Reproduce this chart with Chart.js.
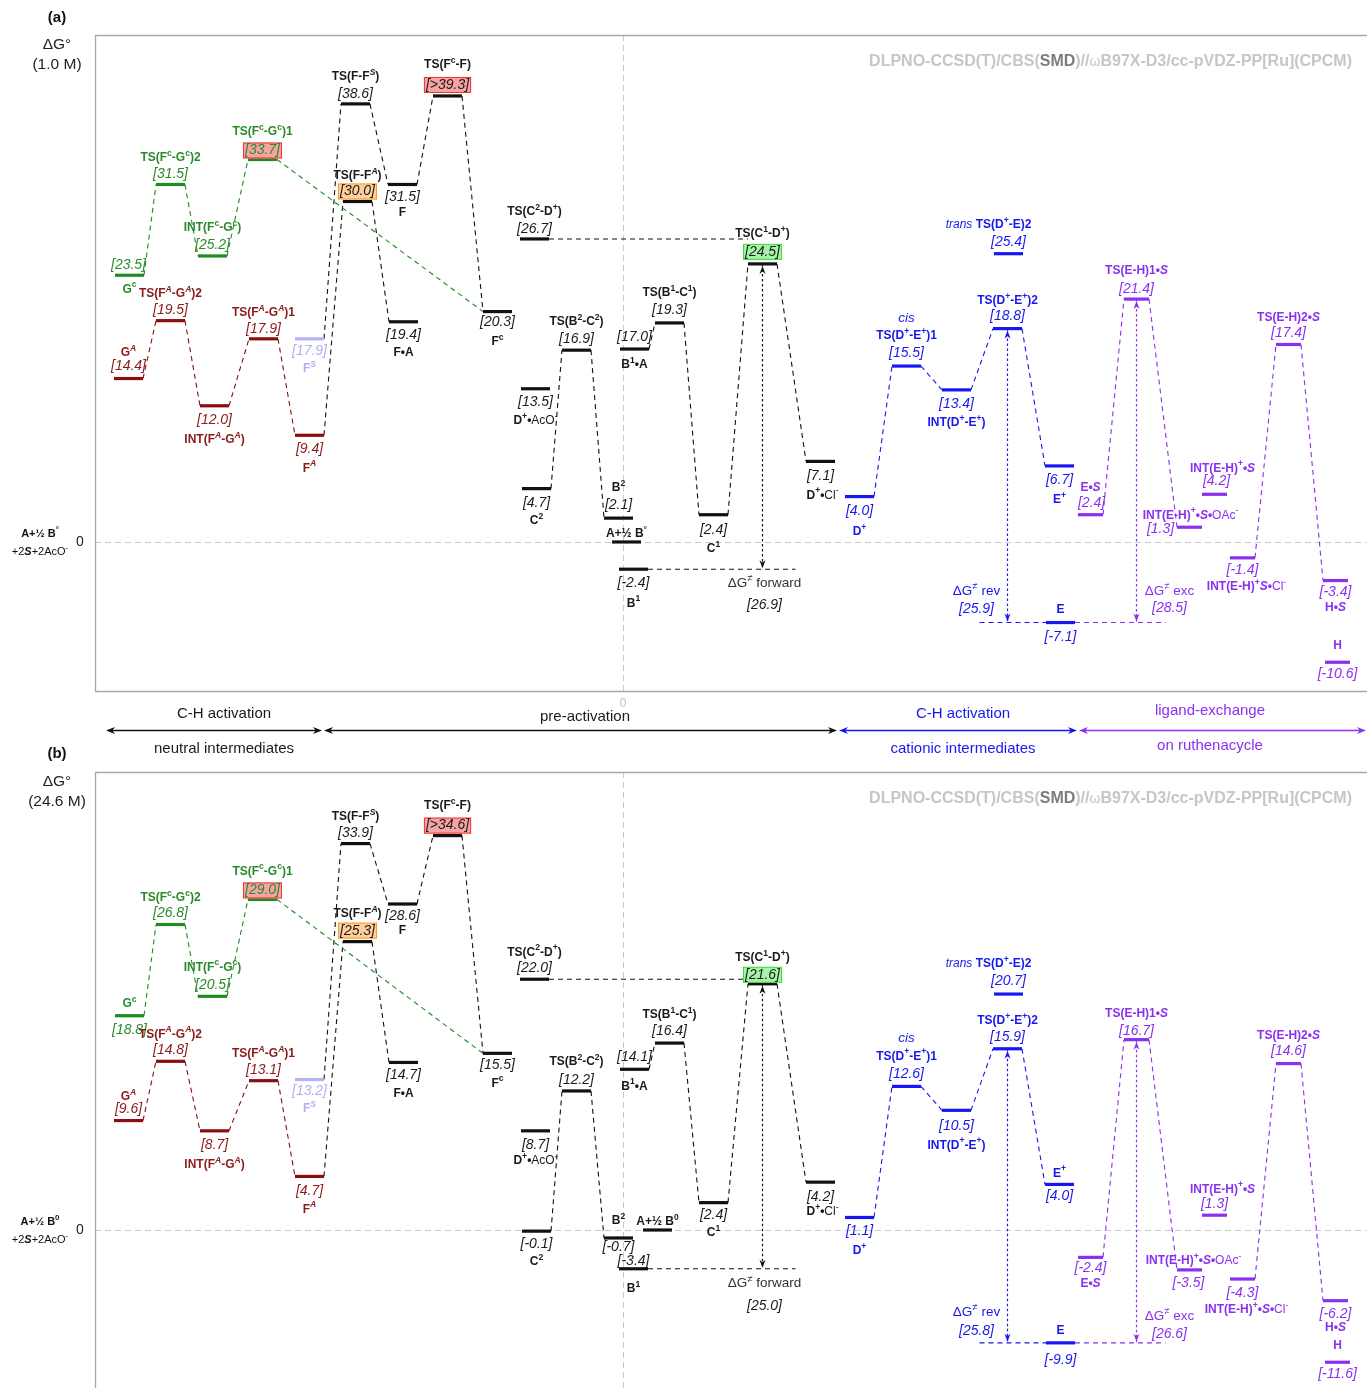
<!DOCTYPE html>
<html><head><meta charset="utf-8">
<script src="https://cdn.jsdelivr.net/npm/chart.js@4/dist/chart.umd.min.js"></script>
<style>
html,body{margin:0;padding:0;background:#fff;}
#wrap{position:relative;width:1367px;height:1388px;overflow:hidden;}
#ca{position:absolute;left:0;top:0;}
#cb{position:absolute;left:0;top:770px;}
</style></head>
<body><div id="wrap"><canvas id="ca" width="1367" height="770"></canvas><canvas id="cb" width="1367" height="618"></canvas></div>
<script>
// ---------------- DATA ----------------
const states = ['Gc','TS(Fc-Gc)2','INT(Fc-Gc)','TS(Fc-Gc)1','GA','TS(FA-GA)2','INT(FA-GA)','TS(FA-GA)1','FA','FS',
  'TS(F-FS)','TS(F-FA)','F','F.A','TS(Fc-F)','Fc','TS(C2-D+)','D+.AcO-','C2','TS(B2-C2)','B2','A+1/2B','B1','B1.A',
  'TS(B1-C1)','C1','TS(C1-D+)','D+.Cl-','D+','TS(D+-E+)1','INT(D+-E+)','TS(D+-E+)2','trans TS(D+-E)2','E+','E',
  'E.S','TS(E-H)1.S','INT(E-H)+.S.OAc-','INT(E-H)+.S','INT(E-H)+.S.Cl-','TS(E-H)2.S','H.S','H'];
const namesA = ['G^{c}','TS(F^{c}-G^{c})2','INT(F^{c}-G^{c})','TS(F^{c}-G^{c})1','G^{*A*}','TS(F^{*A*}-G^{*A*})2','INT(F^{*A*}-G^{*A*})','TS(F^{*A*}-G^{*A*})1','F^{*A*}','F^{*S*}',
  'TS(F-F^{*S*})','TS(F-F^{*A*})','F','F•A','TS(F^{c}-F)','F^{c}','TS(C^{2}-D^{+})','D^{+}•#AcO^{-}#','C^{2}','TS(B^{2}-C^{2})','B^{2}','A+½ B^{°}','B^{1}','B^{1}•A',
  'TS(B^{1}-C^{1})','C^{1}','TS(C^{1}-D^{+})','D^{+}•#Cl^{-}#','D^{+}','TS(D^{+}-E^{+})1','INT(D^{+}-E^{+})','TS(D^{+}-E^{+})2','#*trans*# TS(D^{+}-E)2','E^{+}','E',
  'E•*S*','TS(E-H)1•*S*','INT(E-H)^{+}•*S*•#OAc^{-}#','INT(E-H)^{+}•*S*','INT(E-H)^{+}*S*•#Cl^{-}#','TS(E-H)2•*S*','H•*S*','H'];
const namesB = namesA.slice();
namesB[21] = 'A+½ B^{0}';
namesB[39] = 'INT(E-H)^{+}•*S*•#Cl^{-}#';
const energyA = [23.5,31.5,25.2,33.7, 14.4,19.5,12.0,17.9,9.4, 17.9,
  38.6,30.0,31.5,19.4,39.3,20.3, 26.7,13.5,4.7,16.9,2.1,0.0,-2.4,17.0,19.3,2.4,24.5,7.1,
  4.0,15.5,13.4,18.8,25.4,6.7,-7.1, 2.4,21.4,1.3,4.2,-1.4,17.4,-3.4,-10.6];
const energyB = [18.8,26.8,20.5,29.0, 9.6,14.8,8.7,13.1,4.7, 13.2,
  33.9,25.3,28.6,14.7,34.6,15.5, 22.0,8.7,-0.1,12.2,-0.7,0.0,-3.4,14.1,16.4,2.4,21.6,4.2,
  1.1,12.6,10.5,15.9,20.7,4.0,-9.9, -2.4,16.7,-3.5,1.3,-4.3,14.6,-6.2,-11.6];
const valuePrefix = states.map((s,i)=> i===14 ? '>' : '');
const showValue = states.map((s,i)=> i!==21);
const barrierKeys = ['forward','rev','exc'];
const barriersA = [26.9,25.9,28.5];
const barriersB = [25.0,25.8,26.6];
const sectionTitles = ['C-H activation','pre-activation','C-H activation','ligand-exchange'];
const sectionSubs = ['neutral intermediates','','cationic intermediates','on ruthenacycle'];
const panelTitles = ['(1.0 M)','(24.6 M)'];

// ---------------- LAYOUT / STYLE ----------------
const group = ['g','g','g','g','r','r','r','r','r','l','k','k','k','k','k','k','k','k','k','k','k','k','k','k','k','k','k','k',
  'b','b','b','b','b','b','b','p','p','p','p','p','p','p','p'];
const COL = {g:'#1f8c1f', r:'#8b0d0d', l:'#b3b3f5', k:'#111111', b:'#1717f5', p:'#8b2ff0'};
const TCOL = {g:'#2a8a2a', r:'#8b1a1a', l:'#b0b0f0', k:'#1a1a1a', b:'#1717f0', p:'#8b2ff0'};
const xLeftA = [2.0,6.1,10.3,15.3, 1.9,6.1,10.5,15.4,20.0, 20.0, 24.6,24.8,29.3,29.4,33.8,38.8,
  42.5,42.6,42.7,46.7,50.9,51.7,52.4,52.5,56.0,60.4,65.3,71.1, 75.0,79.7,84.7,89.8,89.9,95.0,95.1,
  98.3,102.9,108.2,110.7,113.5,118.1,122.8,123.0];
const xLeftB = xLeftA.slice(); xLeftB[21] = 54.8;
const barW = i => group[i]==='p' ? 2.5 : 2.9;
const links = [[0,1,'g'],[1,2,'g'],[2,3,'g'],[3,15,'g'],[4,5,'r'],[5,6,'r'],[6,7,'r'],[7,8,'r'],
  [9,10,'k'],[8,11,'k'],[10,12,'k'],[11,13,'k'],[12,14,'k'],[14,15,'k'],[18,19,'k'],[19,20,'k'],
  [23,24,'k'],[24,25,'k'],[25,26,'k'],[26,27,'k'],[28,29,'b'],[29,30,'b'],[30,31,'b'],[31,33,'b'],
  [35,36,'p'],[36,37,'p'],[39,40,'p'],[40,41,'p']];
const boxes = {3:'red',14:'red',11:'orange',26:'green'};
const BOXCOL = {red:['#f6a3a3','#f03434'], orange:['#ffcf9e','#ff9a1f'], green:['#a6f2a6','#3ddc3d']};
const nameDyA = [14,-27,-28,-28, -26,-27,34,-26,33, 30, -27,-26,28,31,-31,30, -27,32,32,-28,-30,-8,34,16,-30,34,-30,34, 35,-30,33,-28,-29,34,-13, -27,-28,-12,-26,29,-27,27,-17];
const valDyA  = [-10,-10,-11,-9, -12,-11,14,-10,14, 12, -10,-10,13,13,-11,11, -10,13,14,-11,-13,0,14,-12,-13,15,-12,15, 15,-13,14,-12,-12,14,15, -12,-10,2,-13,12,-11,12,12];
const nameDyB = [-12,-27,-29,-28, -24,-27,34,-27,33, 29, -27,-28,27,31,-30,30, -27,30,31,-29,-17,-8,20,17,-28,30,-26,30, 33,-30,35,-28,-30,-11,-12, 26,-26,-9,-26,31,-28,27,-17];
const valDyB  = [14,-11,-11,-9, -11,-11,14,-11,15, 12, -10,-11,12,13,-10,12, -11,14,13,-11,9,0,-8,-12,-12,12,-9,15, 14,-12,16,-12,-13,12,17, 11,-9,13,-11,14,-12,13,12];
const nameDxA = states.map(()=>0); nameDxA[32]=-20; nameDxA[37]=1; nameDxA[38]=8; nameDxA[39]=4; nameDxA[27]=2;
const valDxA = states.map(()=>0); valDxA[37]=-29; valDxA[38]=2; valDxA[0]=-1; valDxA[35]=1;
const nameDxB = nameDxA.slice(); nameDxB[37]=4; nameDxB[38]=8;
const valDxB = states.map(()=>0); valDxB[37]=-1;
const REF_X = 52.8;
const FAM = '"Liberation Sans", Arial, Helvetica, sans-serif';
const NAME_SIZE = 12, VAL_SIZE = 14;

// ---------------- RICH TEXT ----------------
function richSegs(s, bold, it){
  const out=[]; let sup=false, buf='';
  const push=()=>{ if(buf){out.push({t:buf,bold,it,sup}); buf='';} };
  for(let i=0;i<s.length;i++){
    const c=s[i];
    if(c==='^' && s[i+1]==='{'){push(); sup=true; i++; continue;}
    if(c==='}' && sup){push(); sup=false; continue;}
    if(c==='*'){push(); it=!it; continue;}
    if(c==='#'){push(); bold=!bold; continue;}
    buf+=c;
  }
  push(); return out;
}
function fontOf(g,size){ const sz = g.sup ? size*0.72 : size; return (g.it?'italic ':'')+(g.bold?'bold ':'')+sz.toFixed(1)+'px '+FAM; }
function richWidth(ctx,s,o){ const segs=richSegs(s,!!o.bold,!!o.italic); let w=0; segs.forEach(g=>{ctx.font=fontOf(g,o.size); w+=ctx.measureText(g.t).width;}); return w; }
function drawRich(ctx,s,x,y,o){
  const segs=richSegs(s,!!o.bold,!!o.italic);
  let w=0; segs.forEach(g=>{ctx.font=fontOf(g,o.size); g.w=ctx.measureText(g.t).width; w+=g.w;});
  let cx = o.align==='right' ? x-w : (o.align==='left' ? x : x-w/2);
  ctx.textBaseline='middle'; ctx.textAlign='left'; ctx.fillStyle=o.color;
  segs.forEach(g=>{ ctx.font=fontOf(g,o.size); ctx.fillText(g.t,cx, g.sup ? y-o.size*0.36 : y); cx+=g.w; });
  return w;
}
function line(ctx,x1,y1,x2,y2){ctx.beginPath();ctx.moveTo(x1,y1);ctx.lineTo(x2,y2);ctx.stroke();}
function head(ctx,x,y,dir,len,hw){
  ctx.beginPath(); ctx.moveTo(x,y);
  if(dir==='up'){ctx.lineTo(x-hw,y+len);ctx.lineTo(x,y+len*0.7);ctx.lineTo(x+hw,y+len);}
  if(dir==='down'){ctx.lineTo(x-hw,y-len);ctx.lineTo(x,y-len*0.7);ctx.lineTo(x+hw,y-len);}
  if(dir==='left'){ctx.lineTo(x+len,y-hw);ctx.lineTo(x+len*0.7,y);ctx.lineTo(x+len,y+hw);}
  if(dir==='right'){ctx.lineTo(x-len,y-hw);ctx.lineTo(x-len*0.7,y);ctx.lineTo(x-len,y+hw);}
  ctx.closePath(); ctx.fill();
}

// ---------------- BUILD ----------------
function buildPanel(P){
  const E=P.E, X=P.X;
  const ds=[];
  const center = i => X[i]+barW(i)/2;
  states.forEach((s,i)=>{
    ds.push({data:[{x:X[i],y:E[i]},{x:X[i]+barW(i),y:E[i]}], borderColor:COL[group[i]], borderWidth:3.2,
      showLine:true, pointRadius:0, borderCapStyle:'butt'});
  });
  links.forEach(([a,b,c])=>{
    ds.push({data:[{x:X[a]+barW(a),y:E[a]},{x:X[b],y:E[b]}], borderColor:COL[c], borderWidth:1.1,
      borderDash:[5,4], showLine:true, pointRadius:0});
  });
  const fx=center(26), rx=center(31), ex=center(36);
  ds.push({data:[{x:X[16]+barW(16),y:E[16]},{x:X[26],y:E[16]}], borderColor:'#111', borderWidth:1.1, borderDash:[5,4], showLine:true, pointRadius:0});
  ds.push({data:[{x:X[22]+barW(22),y:E[22]},{x:fx+3.3,y:E[22]}], borderColor:'#111', borderWidth:1.1, borderDash:[5,4], showLine:true, pointRadius:0});
  ds.push({data:[{x:rx-2.8,y:E[34]},{x:X[34],y:E[34]}], borderColor:COL.b, borderWidth:1.1, borderDash:[5,4], showLine:true, pointRadius:0});
  ds.push({data:[{x:X[34]+barW(34),y:E[34]},{x:ex+2.9,y:E[34]}], borderColor:COL.p, borderWidth:1.1, borderDash:[5,4], showLine:true, pointRadius:0});
  const arrows=[[fx,E[26],E[22],'#111'],[rx,E[31],E[34],COL.b],[ex,E[36],E[34],COL.p]];
  arrows.forEach(([x,y1,y2,c])=>ds.push({data:[{x,y:y1},{x,y:y2}], borderColor:c, borderWidth:1.2, borderDash:[2.5,2.5], showLine:true, pointRadius:0}));

  const plugin = {
    id:'diag'+P.id,
    beforeDatasetsDraw(chart){
      const ctx=chart.ctx, xs=chart.scales.x, ys=chart.scales.y, a=chart.chartArea;
      ctx.save();
      ctx.strokeStyle='#c9c9c9'; ctx.lineWidth=1; ctx.setLineDash([6,4]);
      const y0=Math.round(ys.getPixelForValue(0))+0.5; line(ctx,a.left,y0,a.right,y0);
      const xv=Math.round(xs.getPixelForValue(REF_X))+0.5; line(ctx,xv,a.top,xv,a.bottom);
      ctx.setLineDash([]); ctx.strokeStyle='#a8a8a8'; ctx.lineWidth=1.3;
      line(ctx,a.left+0.5,a.top,a.left+0.5,a.bottom);
      line(ctx,a.left,a.top+0.5,a.right,a.top+0.5);
      if(P.bottomFrame) line(ctx,a.left,a.bottom-0.5,a.right,a.bottom-0.5);
      ctx.restore();
    },
    afterDatasetsDraw(chart){
      const ctx=chart.ctx, xs=chart.scales.x, ys=chart.scales.y, a=chart.chartArea;
      ctx.save();
      arrows.forEach(([x,y1,y2,c])=>{ ctx.fillStyle=c; const px=xs.getPixelForValue(x);
        head(ctx,px,ys.getPixelForValue(y1)+2,'up',8,3); head(ctx,px,ys.getPixelForValue(y2)-1,'down',8,3); });
      states.forEach((s,i)=>{
        const cx=xs.getPixelForValue(center(i)), py=ys.getPixelForValue(E[i]);
        const col=TCOL[group[i]];
        drawRich(ctx,P.names[i],cx+P.nameDx[i],py+P.nameDy[i],{size:NAME_SIZE,bold:true,color:col});
        if(showValue[i]){
          const txt='['+valuePrefix[i]+E[i].toFixed(1)+']';
          const vx=cx+P.valDx[i], vy=py+P.valDy[i];
          if(boxes[i]){
            const w=richWidth(ctx,txt,{size:VAL_SIZE,italic:true});
            const bc=BOXCOL[boxes[i]];
            ctx.fillStyle=bc[0]; ctx.strokeStyle=bc[1]; ctx.lineWidth=1;
            ctx.fillRect(vx-w/2-2,vy-8,w+4,16); ctx.strokeRect(vx-w/2-2+0.5,vy-8+0.5,w+3,15);
          }
          drawRich(ctx,txt,vx,vy,{size:VAL_SIZE,italic:true,color:col});
        }
      });
      drawRich(ctx,'cis',xs.getPixelForValue(center(29)),ys.getPixelForValue(E[29])-48,{size:13.5,italic:true,color:TCOL.b});
      const bl=[[fx,E[22],P.bDy[0],2,'#333',TCOL.k],[rx,E[34],P.bDy[1],-31,TCOL.b,TCOL.b],[ex,E[34],P.bDy[2],33,TCOL.p,TCOL.p]];
      const bt=['ΔG^{≠} forward','ΔG^{≠} rev','ΔG^{≠} exc'];
      bl.forEach(([x,y,dys,dx,c1,c2],k)=>{
        const px=xs.getPixelForValue(x)+dx, py=ys.getPixelForValue(y);
        drawRich(ctx,bt[k],px,py+dys[0],{size:13.5,color:c1});
        drawRich(ctx,'['+P.barriers[k].toFixed(1)+']',px,py+dys[1],{size:VAL_SIZE,italic:true,color:c2});
      });
      const y0=ys.getPixelForValue(0);
      drawRich(ctx,'ΔG°',57,a.top+10,{size:15.5,color:'#222'});
      drawRich(ctx,P.title,57,a.top+30,{size:15.5,color:'#222'});
      drawRich(ctx,'0',80,y0,{size:14,color:'#222'});
      drawRich(ctx,P.names[21],40,y0-8,{size:11,bold:true,color:'#111'});
      drawRich(ctx,'+2#*S*#+2AcO^{-}',40,y0+10,{size:11,color:'#111'});
      const tr=[['DLPNO-CCSD(T)/CBS(','#c6c6c6',true],['SMD','#7c7c7c',true],[')//','#c6c6c6',true],['ω','#c6c6c6',false],['B97X-D3/cc-pVDZ-PP[Ru](CPCM)','#c6c6c6',true]];
      let tw=0; tr.forEach(t=>{ctx.font=(t[2]?'bold 16px ':'14px ')+FAM; t.w=ctx.measureText(t[0]).width; tw+=t.w;});
      let tx=1352-tw; ctx.textBaseline='middle'; ctx.textAlign='left';
      tr.forEach(t=>{ctx.font=(t[2]?'bold 16px ':'14px ')+FAM; ctx.fillStyle=t[1]; ctx.fillText(t[0],tx,a.top+27); tx+=t.w;});
      if(P.extra) P.extra(chart);
      ctx.restore();
    }
  };

  return new Chart(document.getElementById(P.canvas), {
    type:'scatter',
    data:{datasets:ds},
    options:{
      responsive:false, animation:false, devicePixelRatio:1,
      layout:{padding:P.padding},
      scales:{x:{type:'linear',display:false,min:0,max:127.2},y:{type:'linear',display:false,min:P.ymin,max:P.ymax}},
      plugins:{legend:{display:false},tooltip:{enabled:false}},
      elements:{point:{radius:0,hoverRadius:0}},
      events:[]
    },
    plugins:[plugin]
  });
}

function bandExtra(chart){
  const ctx=chart.ctx, xs=chart.scales.x;
  const bounds=[1.0,22.8,74.3,98.3,127.2];
  const cols=['#111','#111',COL.b,COL.p];
  const tcol=['#1a1a1a','#1a1a1a',TCOL.b,TCOL.p];
  const tx=[12.9,49.0,86.8,111.5];
  const ty=[714,717,714,711], sy=[749,0,749,746];
  const y=730.5;
  for(let k=0;k<4;k++){
    const x1=xs.getPixelForValue(bounds[k])+1, x2=xs.getPixelForValue(bounds[k+1])-1;
    ctx.strokeStyle=cols[k]; ctx.fillStyle=cols[k]; ctx.lineWidth=1.3; ctx.setLineDash([]);
    line(ctx,x1+4,y,x2-4,y); head(ctx,x1,y,'left',9,3.5); head(ctx,x2,y,'right',9,3.5);
    drawRich(ctx,sectionTitles[k],xs.getPixelForValue(tx[k]),ty[k],{size:15,color:tcol[k]});
    if(sectionSubs[k]) drawRich(ctx,sectionSubs[k],xs.getPixelForValue(tx[k]),sy[k],{size:15,color:tcol[k]});
  }
  drawRich(ctx,'0',xs.getPixelForValue(REF_X),704,{size:12,color:'#c0c0c0'});
  drawRich(ctx,'(a)',57,18,{size:15,bold:true,color:'#111'});
  drawRich(ctx,'(b)',57,754,{size:15,bold:true,color:'#111'});
}

buildPanel({id:'A',canvas:'ca',E:energyA,X:xLeftA,names:namesA,nameDy:nameDyA,valDy:valDyA,nameDx:nameDxA,valDx:valDxA,
  barriers:barriersA,bDy:[[14,36],[-31,-13],[-31,-14]],title:panelTitles[0],
  padding:{left:95,top:35,right:0,bottom:78},ymin:-13.22,ymax:44.67,bottomFrame:true,extra:bandExtra});
buildPanel({id:'B',canvas:'cb',E:energyB,X:xLeftB,names:namesB,nameDy:nameDyB,valDy:valDyB,nameDx:nameDxB,valDx:valDxB,
  barriers:barriersB,bDy:[[15,37],[-31,-12],[-27,-9]],title:panelTitles[1],
  padding:{left:95,top:2,right:0,bottom:0},ymin:-13.86,ymax:40.18,bottomFrame:false});
</script>
</body></html>
